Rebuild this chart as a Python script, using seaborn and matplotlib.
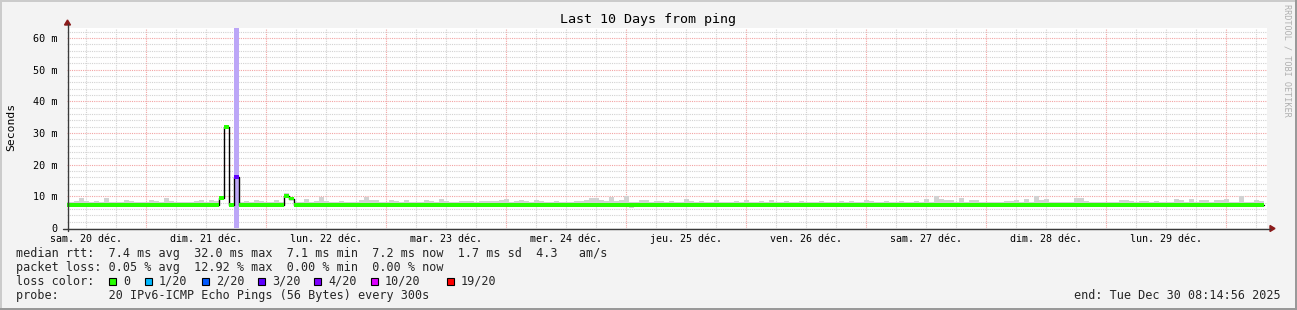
import numpy as np
import pandas as pd
import matplotlib
matplotlib.use("Agg")
import matplotlib.pyplot as plt
import matplotlib.dates as mdates
from matplotlib.patches import Rectangle, Polygon
from matplotlib.lines import Line2D
import matplotlib.transforms as mtransforms
import seaborn as sns
import datetime as dt

# ---------------- data ----------------
graph_start = dt.datetime(2025, 12, 20, 8, 14, 56)
graph_end = dt.datetime(2025, 12, 30, 8, 14, 56)
first_bin = dt.datetime(2025, 12, 20, 7, 42, 32)   # hourly consolidation bins

median_ms = [
    7.3, 7.3, 7.2, 7.3, 7.3, 7.2, 7.2, 7.3, 7.3, 7.2, 7.3, 7.3, 7.3, 7.2, 7.2, 7.3, 7.3, 7.3, 7.2, 7.3, 7.3, 7.2, 7.3, 7.3,
    7.2, 7.3, 7.3, 7.3, 7.2, 7.2, 7.3, 9.5, 32.0, 7.2, 16.0, 7.3, 7.3, 7.2, 7.3, 7.3, 7.2, 7.2, 7.3, 7.3, 10.1, 9.3, 7.3, 7.3,
    7.3, 7.3, 7.2, 7.3, 7.3, 7.3, 7.2, 7.3, 7.3, 7.3, 7.3, 7.2, 7.3, 7.3, 7.3, 7.2, 7.3, 7.3, 7.3, 7.2, 7.3, 7.3, 7.3, 7.3,
    7.3, 7.2, 7.3, 7.3, 7.3, 7.2, 7.3, 7.3, 7.3, 7.3, 7.2, 7.3, 7.3, 7.3, 7.3, 7.2, 7.3, 7.3, 7.2, 7.3, 7.3, 7.3, 7.3, 7.2,
    7.3, 7.3, 7.3, 7.2, 7.3, 7.3, 7.3, 7.3, 7.2, 7.3, 7.3, 7.3, 7.3, 7.3, 7.2, 7.3, 7.3, 7.3, 7.3, 7.2, 7.3, 7.3, 7.3, 7.3,
    7.3, 7.3, 7.2, 7.3, 7.3, 7.3, 7.3, 7.2, 7.3, 7.3, 7.3, 7.3, 7.3, 7.2, 7.3, 7.3, 7.3, 7.3, 7.3, 7.2, 7.3, 7.3, 7.3, 7.3,
    7.3, 7.2, 7.3, 7.3, 7.3, 7.3, 7.2, 7.3, 7.3, 7.3, 7.3, 7.2, 7.3, 7.3, 7.3, 7.3, 7.2, 7.3, 7.3, 7.3, 7.3, 7.3, 7.2, 7.3,
    7.3, 7.3, 7.3, 7.2, 7.3, 7.3, 7.3, 7.3, 7.3, 7.2, 7.3, 7.3, 7.3, 7.2, 7.3, 7.3, 7.3, 7.3, 7.2, 7.3, 7.3, 7.3, 7.3, 7.2,
    7.3, 7.3, 7.3, 7.3, 7.2, 7.3, 7.3, 7.3, 7.3, 7.2, 7.3, 7.3, 7.3, 7.3, 7.3, 7.2, 7.3, 7.3, 7.3, 7.3, 7.2, 7.3, 7.3, 7.3,
    7.3, 7.2, 7.3, 7.3, 7.3, 7.3, 7.2, 7.3, 7.3, 7.3, 7.3, 7.2, 7.3, 7.3, 7.3, 7.3, 7.3, 7.2, 7.3, 7.3, 7.3, 7.3, 7.3, 7.2,
]

smoke_hi_ms = [
    8.2, 8.3, 8.4, 9.6, 8.6, 8.3, 8.4, 8.2, 9.6, 8.3, 8.1, 8.2, 8.7, 8.4, 8.2, 8.2, 8.3, 9.0, 8.6, 8.3, 9.6, 8.4, 8.2, 8.3,
    8.2, 8.3, 8.4, 8.8, 8.3, 8.8, 8.4, 10.0, 32.6, 7.8, 16.7, 8.3, 8.4, 8.3, 8.9, 8.5, 8.3, 8.2, 8.7, 8.3, 11.0, 9.8, 8.2, 8.3,
    9.2, 8.3, 8.4, 9.8, 8.4, 8.2, 8.3, 8.5, 8.2, 8.3, 8.2, 8.9, 9.9, 8.9, 8.9, 8.3, 8.2, 8.9, 8.4, 8.2, 8.9, 8.3, 8.2, 8.3,
    8.9, 8.6, 8.3, 9.3, 8.4, 8.3, 8.2, 8.4, 8.6, 8.6, 8.3, 8.5, 8.5, 8.6, 8.5, 8.9, 9.3, 8.3, 8.6, 8.9, 8.4, 8.3, 8.9, 8.6,
    8.3, 8.2, 8.6, 8.3, 8.2, 8.3, 8.4, 8.6, 9.0, 9.5, 9.6, 8.7, 8.6, 9.9, 8.6, 8.7, 10.0, 8.3, 8.3, 8.9, 8.9, 8.3, 8.6, 8.6,
    8.3, 8.5, 8.2, 8.3, 9.2, 8.4, 8.2, 8.6, 8.3, 8.2, 8.8, 8.3, 8.3, 8.2, 8.5, 8.3, 8.7, 8.3, 8.2, 8.4, 8.3, 8.9, 8.3, 8.2,
    8.4, 8.3, 8.2, 8.6, 8.3, 8.2, 8.3, 8.5, 8.2, 8.3, 8.2, 8.4, 8.3, 8.6, 8.3, 8.2, 8.8, 8.4, 8.2, 8.3, 8.5, 8.3, 8.2, 8.6,
    8.3, 8.2, 8.4, 8.3, 9.2, 8.3, 10.2, 9.2, 9.0, 8.7, 8.3, 9.6, 8.3, 8.7, 9.0, 8.3, 8.2, 8.3, 8.2, 8.3, 8.6, 8.6, 9.0, 8.3,
    9.3, 8.3, 10.0, 8.7, 9.3, 8.3, 8.2, 8.3, 8.2, 8.3, 9.4, 9.6, 8.5, 8.3, 8.2, 8.3, 8.2, 8.3, 8.2, 8.9, 8.9, 8.4, 8.3, 8.6,
    8.6, 8.3, 8.5, 8.2, 8.3, 8.2, 9.3, 8.7, 8.3, 9.3, 8.2, 8.7, 9.0, 8.3, 9.0, 9.0, 9.3, 8.3, 8.2, 10.2, 8.3, 8.2, 9.0, 8.5,
]

smoke_lo_ms = [
    6.9, 6.9, 6.7, 6.9, 6.9, 6.9, 6.6, 6.9, 6.9, 6.9, 6.9, 6.9, 6.9, 6.8, 6.9, 6.9, 6.9, 6.9, 6.9, 6.7, 6.9, 6.9, 6.9, 6.9,
    6.9, 6.9, 6.9, 6.8, 6.9, 6.9, 6.9, 9.1, 31.5, 6.9, 15.5, 6.9, 6.9, 6.9, 6.9, 6.8, 6.9, 6.9, 6.9, 6.9, 9.7, 8.9, 6.9, 6.9,
    6.9, 6.9, 6.9, 6.7, 6.9, 6.9, 6.9, 6.9, 6.9, 6.9, 6.8, 6.9, 6.9, 6.9, 6.9, 6.9, 6.9, 6.7, 6.9, 6.9, 6.9, 6.9, 6.9, 6.9,
    6.9, 6.9, 6.9, 6.8, 6.9, 6.9, 6.9, 6.9, 6.9, 6.9, 6.9, 6.9, 6.8, 6.9, 6.9, 6.9, 6.9, 6.9, 6.5, 6.9, 6.9, 6.9, 6.9, 6.9,
    6.9, 6.9, 6.9, 6.9, 6.9, 6.9, 6.8, 6.9, 6.9, 6.9, 6.9, 6.9, 6.9, 6.7, 6.9, 6.9, 6.9, 6.2, 6.9, 6.9, 6.9, 6.9, 6.5, 6.9,
    6.9, 6.9, 6.9, 6.9, 6.8, 6.9, 6.9, 6.9, 6.9, 6.9, 6.9, 6.9, 6.7, 6.9, 6.9, 6.9, 6.9, 6.9, 6.9, 6.9, 6.8, 6.9, 6.9, 6.9,
    6.9, 6.9, 6.9, 6.8, 6.9, 6.9, 6.9, 6.9, 6.9, 6.9, 6.9, 6.7, 6.9, 6.9, 6.9, 6.9, 6.9, 6.8, 6.9, 6.9, 6.9, 6.9, 6.9, 6.9,
    6.9, 6.9, 6.9, 6.9, 6.9, 6.8, 6.9, 6.9, 6.9, 6.9, 6.9, 6.9, 6.9, 6.7, 6.9, 6.9, 6.9, 6.9, 6.9, 6.9, 6.9, 6.9, 6.8, 6.9,
    6.9, 6.9, 6.9, 6.9, 6.9, 6.9, 6.9, 6.9, 6.9, 6.8, 6.9, 6.9, 6.9, 6.9, 6.9, 6.9, 6.9, 6.9, 6.6, 6.9, 6.9, 6.9, 6.9, 6.9,
    6.9, 6.9, 6.6, 6.9, 6.9, 6.9, 6.9, 6.9, 6.9, 6.9, 6.9, 6.9, 6.9, 6.8, 6.9, 6.9, 6.9, 6.9, 6.6, 6.9, 6.9, 6.9, 6.9, 6.9,
]

loss_bins = [34]          # bins with packet loss
loss_counts = [3]         # lost pings out of 20

loss_levels = [0, 1, 2, 3, 4, 10, 19]
loss_labels = ["0", "1/20", "2/20", "3/20", "4/20", "10/20", "19/20"]
loss_colors = ["#26ff00", "#00b8ff", "#0059ff", "#5e00ff", "#7e00ff", "#dd00ff", "#ff0000"]
loss_bg_colors = ["#b4ffa6", "#a6e6ff", "#a6c4ff", "#bca6f7", "#cba6ff", "#f0a6ff", "#ffa6a6"]

yticks_ms = [0, 10, 20, 30, 40, 50, 60]
ytick_labels = ["0", "10 m", "20 m", "30 m", "40 m", "50 m", "60 m"]
day_labels = ["sam. 20 déc.", "dim. 21 déc.", "lun. 22 déc.", "mar. 23 déc.", "mer. 24 déc.",
              "jeu. 25 déc.", "ven. 26 déc.", "sam. 27 déc.", "dim. 28 déc.", "lun. 29 déc."]

title = "Last 10 Days from ping"
ylabel = "Seconds"
stat_lines = [
    "median rtt:  7.4 ms avg  32.0 ms max  7.1 ms min  7.2 ms now  1.7 ms sd  4.3   am/s",
    "packet loss: 0.05 % avg  12.92 % max  0.00 % min  0.00 % now",
]
probe_line = "probe:       20 IPv6-ICMP Echo Pings (56 Bytes) every 300s"
end_line = "end: Tue Dec 30 08:14:56 2025"
watermark = "RRDTOOL / TOBI OETIKER"

# ---------------- setup ----------------
W, H = 1297, 310
sns.set_theme(style="white")
plt.rcParams["font.family"] = ["DejaVu Sans Mono", "DejaVu Sans"]

fig = plt.figure(figsize=(W / 100, H / 100), dpi=100, facecolor="#f3f3f3")
ax = fig.add_axes([67 / W, 1 - 228 / H, 1200 / W, 200 / H])
ax.set_facecolor("white")


def fx(px):
    return px / W


def fy(py):
    return 1 - py / H


n = len(median_ms)
edges = [first_bin + dt.timedelta(hours=i) for i in range(n + 1)]
edges_num = mdates.date2num(edges)
med = np.array(median_ms)
lo = np.array(smoke_lo_ms)
hi = np.array(smoke_hi_ms)
med_ext = np.append(med, med[-1])
lo_ext = np.append(lo, lo[-1])
hi_ext = np.append(hi, hi[-1])
bin_w = edges_num[1] - edges_num[0]

x0, x1 = mdates.date2num(graph_start), mdates.date2num(graph_end)

# ---------------- grid ----------------
minor_grid = "#d2d2d2"
major_grid = "#f2a3a3"
dots = (0, (1, 1))
for d in range(11):
    day0 = dt.datetime(2025, 12, 20) + dt.timedelta(days=d)
    for h in (0, 6, 12, 18):
        t = mdates.date2num(day0 + dt.timedelta(hours=h))
        if x0 < t < x1:
            ax.axvline(t, color=major_grid if h == 0 else minor_grid, lw=0.8, ls=dots, zorder=0.5)
for v in np.arange(2, 64, 2):
    ax.axhline(v, color=major_grid if v % 10 == 0 else minor_grid, lw=0.8, ls=dots, zorder=0.5)

# ---------------- loss background ----------------
def loss_index(c):
    idx = 0
    for k, lv in enumerate(loss_levels):
        if c >= lv:
            idx = k
    return idx


for b, c in zip(loss_bins, loss_counts):
    ax.axvspan(edges_num[b], edges_num[b + 1], color=loss_bg_colors[loss_index(c)], lw=0, zorder=1)

# ---------------- smoke ----------------
ax.fill_between(edges_num, lo_ext, hi_ext, step="post", color="#d2d2d2", lw=0, zorder=2)

# ---------------- median line ----------------
df = pd.DataFrame({"t": edges_num, "median": med_ext})
sns.lineplot(data=df, x="t", y="median", drawstyle="steps-post", color="black",
             lw=1.0, ax=ax, zorder=3, estimator=None)
band = 0.6
ax.fill_between(edges_num, med_ext - band, med_ext + band, step="post",
                color=loss_colors[0], lw=0, zorder=4)
for b, c in zip(loss_bins, loss_counts):
    ax.add_patch(Rectangle((edges_num[b], med[b] - band), bin_w, 2 * band,
                           facecolor=loss_colors[loss_index(c)], lw=0, zorder=5))

# ---------------- axes ----------------
ax.set_xlim(x0, x1)
ax.set_ylim(0, 63.2)
ax.set_xlabel("")
ax.set_ylabel("")
for s in ax.spines.values():
    s.set_visible(False)
ax.set_xticks([])
ax.set_yticks(yticks_ms)
ax.set_yticklabels(ytick_labels, fontsize=7.3, color="black")
ax.tick_params(axis="y", length=0, pad=7)

blend = mtransforms.blended_transform_factory(ax.transData, fig.transFigure)
for d, lab in enumerate(day_labels):
    t = mdates.date2num(dt.datetime(2025, 12, 20, 12) + dt.timedelta(days=d))
    ax.text(t, fy(238.5), lab, transform=blend, ha="center", va="center", fontsize=7.2, color="black")

# axis lines and arrows
axis_col = "#3a3a3a"
arrow_col = "#8b1a1a"
fig.add_artist(Line2D([fx(63), fx(1270)], [fy(228.5), fy(228.5)], color=axis_col, lw=1.0))
fig.add_artist(Line2D([fx(67.5), fx(67.5)], [fy(231), fy(24)], color=axis_col, lw=1.0))
fig.add_artist(Polygon([[fx(1270), fy(225.5)], [fx(1270), fy(231.5)], [fx(1275), fy(228.5)]],
                       closed=True, color=arrow_col, transform=fig.transFigure))
fig.add_artist(Polygon([[fx(64.5), fy(25)], [fx(70.5), fy(25)], [fx(67.5), fy(20)]],
                       closed=True, color=arrow_col, transform=fig.transFigure))

# ---------------- texts ----------------
fig.text(fx(648), fy(19.5), title, ha="center", va="center", fontsize=9.6, color="black")
fig.text(fx(11), fy(127), ylabel, ha="center", va="center", rotation=90, fontsize=8.2, color="black")
fig.text(fx(1287), fy(4), watermark, ha="center", va="top", rotation=270, fontsize=6.1, color="#b0b0b0")

fs = 8.45
fig.text(fx(16), fy(254), stat_lines[0], ha="left", va="center", fontsize=fs)
fig.text(fx(16), fy(268), stat_lines[1], ha="left", va="center", fontsize=fs)
fig.text(fx(16), fy(281.5), "loss color:", ha="left", va="center", fontsize=fs)
square_x = [109, 145, 202, 258, 314, 371, 447]
for sx, col, lab in zip(square_x, loss_colors, loss_labels):
    fig.add_artist(Rectangle((fx(sx), fy(284.5)), 7 / W, 7 / H, facecolor=col, edgecolor="black",
                             lw=0.8, transform=fig.transFigure))
    fig.text(fx(sx + 14), fy(281.5), lab, ha="left", va="center", fontsize=fs)
fig.text(fx(16), fy(295.5), probe_line, ha="left", va="center", fontsize=fs)
fig.text(fx(1281), fy(295.5), end_line, ha="right", va="center", fontsize=fs)

# frame
fig.add_artist(Rectangle((0, fy(2)), 1, 2 / H, facecolor="#cbcbcb", lw=0, transform=fig.transFigure))
fig.add_artist(Rectangle((0, 0), 2 / W, 1, facecolor="#cbcbcb", lw=0, transform=fig.transFigure))
fig.add_artist(Rectangle((0, 0), 1, 2 / H, facecolor="#999999", lw=0, transform=fig.transFigure))
fig.add_artist(Rectangle((fx(1295), 0), 2 / W, 1, facecolor="#999999", lw=0, transform=fig.transFigure))

fig.savefig("out.png", dpi=100, facecolor=fig.get_facecolor())
